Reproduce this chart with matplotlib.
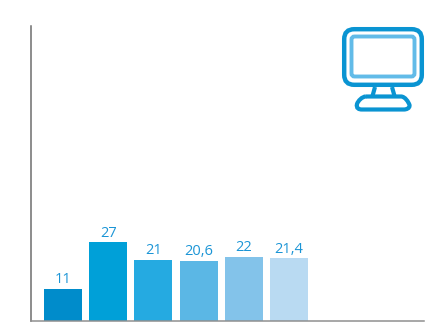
import matplotlib
matplotlib.use("Agg")
import matplotlib.pyplot as plt
from matplotlib.patches import FancyBboxPatch, PathPatch
from matplotlib.path import Path

values = [11, 27, 21, 20.6, 22, 21.4]
labels = ["11", "27", "21", "20,6", "22", "21,4"]
colors = ["#008ccb", "#00a0d8", "#25aae1", "#5bb7e5", "#83c3ea", "#b9daf2"]

W, H = 436, 322
fig = plt.figure(figsize=(W / 100, H / 100), dpi=100)
ax = fig.add_axes([30.5 / W, 1 / H, (424 - 30.5) / W, 295 / H])
ax.set_xlim(-0.719, 7.987)
ax.set_ylim(0, 101)
x = range(len(values))
ax.bar(x, values, width=0.84, color=colors, linewidth=0)
for i, (v, t) in enumerate(zip(values, labels)):
    ax.annotate(t, (i, v), xytext=(0, 1.0), textcoords="offset points",
                ha="center", va="bottom", fontsize=10.5, color="#1b95d6",
                family="Open Sans")
for s in ("top", "right"):
    ax.spines[s].set_visible(False)
ax.spines["left"].set_linewidth(1.1)
ax.spines["left"].set_color("#6e6e6e")
ax.spines["bottom"].set_linewidth(1.1)
ax.spines["bottom"].set_color("#8f8f8f")
ax.set_xticks([])
ax.set_yticks([])

# Monitor icon, drawn in pixel coordinates
ic = fig.add_axes([0, 0, 1, 1], facecolor="none")
ic.set_xlim(0, W)
ic.set_ylim(H, 0)
ic.axis("off")
dark, light = "#0a94d2", "#62bbe8"
ic.add_patch(FancyBboxPatch((352.2, 37.2), 61.6, 39.6, boxstyle="round,pad=8,rounding_size=10",
                            fc="none", ec=dark, lw=3.2))
ic.add_patch(FancyBboxPatch((352.5, 37.5), 61, 38, boxstyle="round,pad=1,rounding_size=3",
                            fc="none", ec=light, lw=2.8))
ic.plot([375, 372.5], [87, 96], color=dark, lw=3.0, solid_capstyle="butt")
ic.plot([392, 394.5], [87, 96], color=dark, lw=3.0, solid_capstyle="butt")
base = Path([(366, 96.5), (401, 96.5), (405, 96.5), (408.5, 102), (409.5, 105),
             (410, 108.5), (406, 109.5), (404, 109.5), (362, 109.5),
             (359, 109.5), (356, 108.5), (357, 104), (358, 101), (362, 96.5), (366, 96.5)],
            [Path.MOVETO, Path.LINETO, Path.CURVE4, Path.CURVE4, Path.CURVE4,
             Path.CURVE4, Path.CURVE4, Path.CURVE4, Path.LINETO,
             Path.CURVE4, Path.CURVE4, Path.CURVE4, Path.CURVE4, Path.CURVE4, Path.CURVE4])
ic.add_patch(PathPatch(base, fc="none", ec=dark, lw=3.0))

fig.savefig("out.png", dpi=100)
